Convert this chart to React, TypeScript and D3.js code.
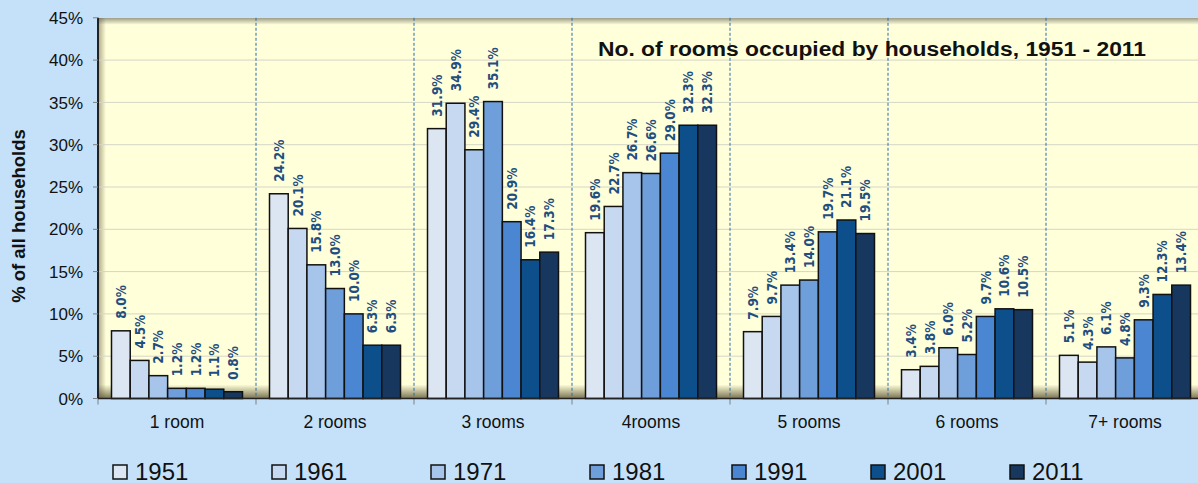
import React from "react";
import * as d3 from "d3";

const categories = ["1 room", "2 rooms", "3 rooms", "4rooms", "5 rooms", "6 rooms", "7+ rooms"];
const years = ["1951", "1961", "1971", "1981", "1991", "2001", "2011"];
const v1951 = [8.0, 24.2, 31.9, 19.6, 7.9, 3.4, 5.1];
const v1961 = [4.5, 20.1, 34.9, 22.7, 9.7, 3.8, 4.3];
const v1971 = [2.7, 15.8, 29.4, 26.7, 13.4, 6.0, 6.1];
const v1981 = [1.2, 13.0, 35.1, 26.6, 14.0, 5.2, 4.8];
const v1991 = [1.2, 10.0, 20.9, 29.0, 19.7, 9.7, 9.3];
const v2001 = [1.1, 6.3, 16.4, 32.3, 21.1, 10.6, 12.3];
const v2011 = [0.8, 6.3, 17.3, 32.3, 19.5, 10.5, 13.4];
const yTicks = [0, 5, 10, 15, 20, 25, 30, 35, 40, 45];
const title = "No. of rooms occupied by households, 1951 - 2011";
const yTitle = "% of all households";

const series = [v1951, v1961, v1971, v1981, v1991, v2001, v2011];
const colors = ["#dce6f2", "#c6d9f0", "#a7c5ea", "#6f9fdb", "#4a86d1", "#0c4f8b", "#17375e"];

const W = 1198;
const H = 483;
const plotL = 98;
const plotR = 98 + 7 * 158;
const plotT = 17.8;
const plotB = 398.5;
const legendX = [113, 272, 431, 590, 732, 871, 1010];

export default function App() {
  const x = d3.scaleBand<string>().domain(categories).range([plotL, plotR]).padding(0);
  const bw = x.bandwidth();
  const inner = d3.scaleBand<string>().domain(years).range([13.5, bw - 13.5]).padding(0);
  const y = d3.scaleLinear().domain([0, 45]).range([plotB, plotT]);

  return (
    <svg
      width={W}
      height={H}
      style={{ position: "absolute", left: 0, top: 0, display: "block" }}
      fontFamily="'Liberation Sans', Arial, sans-serif"
    >
      <defs>
        <linearGradient id="topShade" x1="0" y1="0" x2="0" y2="1">
          <stop offset="0" stopColor="#7a7a6a" stopOpacity="0.75" />
          <stop offset="1" stopColor="#7a7a6a" stopOpacity="0" />
        </linearGradient>
        <linearGradient id="botShade" x1="0" y1="1" x2="0" y2="0">
          <stop offset="0" stopColor="#5a5030" stopOpacity="0.8" />
          <stop offset="1" stopColor="#5a5030" stopOpacity="0" />
        </linearGradient>
        <linearGradient id="leftShade" x1="0" y1="0" x2="1" y2="0">
          <stop offset="0" stopColor="#5a5030" stopOpacity="0.5" />
          <stop offset="1" stopColor="#5a5030" stopOpacity="0" />
        </linearGradient>
        <clipPath id="plotClip">
          <rect x={plotL} y={plotT} width={plotR - plotL} height={plotB - plotT} />
        </clipPath>
      </defs>
      <rect x={0} y={0} width={W} height={H} fill="#c4e1f9" />
      <rect x={plotL} y={plotT} width={plotR - plotL} height={plotB - plotT} fill="#ffffda" />
      <g clipPath="url(#plotClip)">
        <rect x={plotL} y={plotT} width={plotR - plotL} height={7} fill="url(#topShade)" />
        <rect x={plotL} y={plotB - 14} width={plotR - plotL} height={14} fill="url(#botShade)" />
        <rect x={plotL} y={plotT} width={8} height={plotB - plotT} fill="url(#leftShade)" />
      </g>
      {yTicks.slice(1, -1).map((t) => (
        <line key={t} x1={plotL} x2={plotR} y1={y(t)} y2={y(t)} stroke="#d6d6c8" strokeWidth={1} />
      ))}
      {categories.slice(1).map((c) => (
        <line
          key={c}
          x1={x(c)}
          x2={x(c)}
          y1={plotT}
          y2={plotB}
          stroke="#2a6aa8"
          strokeWidth={1}
          strokeDasharray="3,2"
        />
      ))}
      {categories.map((c) => (
        <line key={"t" + c} x1={x(c)} x2={x(c)} y1={plotB} y2={plotB + 6} stroke="#808080" strokeWidth={1} />
      ))}
      {series.map((vals, si) =>
        vals.map((v, ci) => (
          <rect
            key={si + "-" + ci}
            x={(x(categories[ci]) as number) + (inner(years[si]) as number)}
            y={y(v)}
            width={inner.bandwidth()}
            height={plotB - y(v)}
            fill={colors[si]}
            stroke="#111"
            strokeWidth={1.5}
          />
        ))
      )}
      {series.map((vals, si) =>
        vals.map((v, ci) => {
          const cx = (x(categories[ci]) as number) + (inner(years[si]) as number) + inner.bandwidth() / 2;
          const cy = y(v) - 12;
          return (
            <text
              key={"l" + si + "-" + ci}
              transform={`translate(${cx},${cy}) rotate(-90)`}
              dominantBaseline="central"
              textAnchor="start"
              fontFamily="'DejaVu Sans Condensed', 'DejaVu Sans', sans-serif"
              fontWeight="bold"
              fontSize={13.5}
              fill="#1f4e80"
            >
              {v.toFixed(1) + "%"}
            </text>
          );
        })
      )}
      <line x1={plotL} x2={plotR} y1={plotB} y2={plotB} stroke="#222" strokeWidth={1.5} />
      <line x1={plotL} x2={plotL} y1={plotT} y2={plotB} stroke="#222" strokeWidth={2} />
      {yTicks.map((t) => (
        <g key={"y" + t}>
          <line x1={plotL - 5} x2={plotL} y1={y(t)} y2={y(t)} stroke="#808080" strokeWidth={1} />
          <text x={83} y={y(t)} dy="0.36em" textAnchor="end" fontSize={17} fill="#111">
            {t + "%"}
          </text>
        </g>
      ))}
      {categories.map((c) => (
        <text
          key={"c" + c}
          x={(x(c) as number) + bw / 2}
          y={428}
          textAnchor="middle"
          fontSize={17.5}
          fill="#111"
        >
          {c}
        </text>
      ))}
      <text
        transform={`translate(18,216) rotate(-90)`}
        textAnchor="middle"
        dominantBaseline="central"
        fontWeight="bold"
        fontSize={18.5}
        fill="#111"
      >
        {yTitle}
      </text>
      <text
        x={598}
        y={56}
        fontWeight="bold"
        fontSize={20}
        fill="#111"
        textLength={548}
        lengthAdjust="spacingAndGlyphs"
      >
        {title}
      </text>
      {years.map((yr, i) => (
        <g key={"lg" + yr}>
          <rect x={legendX[i]} y={465} width={14} height={14} fill={colors[i]} stroke="#111" strokeWidth={1.5} />
          <text x={legendX[i] + 22} y={480} fontSize={24} fill="#111">
            {yr}
          </text>
        </g>
      ))}
    </svg>
  );
}
